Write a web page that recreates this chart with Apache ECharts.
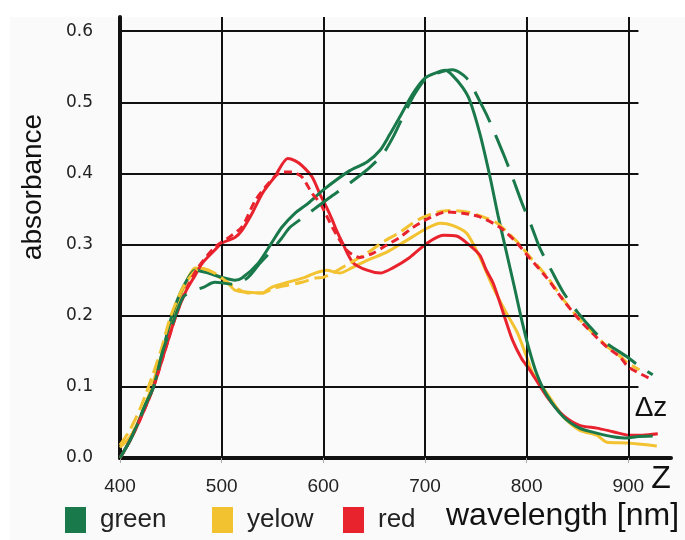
<!DOCTYPE html>
<html>
<head>
<meta charset="utf-8">
<script src="https://cdn.jsdelivr.net/npm/echarts@6/dist/echarts.min.js"></script>
<style>
    html, body { margin: 0; padding: 0; background: #fff; }
    #chart { width: 685px; height: 540px; }
</style>
</head>
<body>
<div id="chart"></div>
<script>
// tick values
const xTicks = [400, 500, 600, 700, 800, 900];
const yTicks = [0, 0.1, 0.2, 0.3, 0.4, 0.5, 0.6];

// solid curves [wavelength nm, absorbance]
const greenSolid = [[400, 0.0], [408, 0.02], [415, 0.04], [425, 0.075], [433, 0.1], [442, 0.15], [451, 0.2], [462, 0.24],
    [474, 0.264], [484, 0.261], [500, 0.254], [513, 0.25], [520, 0.253], [536, 0.274], [549, 0.302], [559, 0.324],
    [572, 0.344], [585, 0.358], [600, 0.377], [626, 0.404], [643, 0.416], [656, 0.433], [665, 0.454], [675, 0.479],
    [688, 0.512], [700, 0.534], [712, 0.542], [720, 0.545], [727, 0.538], [737, 0.521], [744, 0.503], [754, 0.456],
    [764, 0.395], [772, 0.34], [780, 0.29], [788, 0.24], [795, 0.195], [802, 0.155], [810, 0.118], [820, 0.088],
    [836, 0.058], [852, 0.042], [869, 0.035], [885, 0.030], [899, 0.028], [908, 0.030], [924, 0.031]];
const yellowSolid = [[400, 0.015], [410, 0.03], [420, 0.058], [430, 0.095], [442, 0.15], [452, 0.2], [463, 0.24], [474, 0.267],
    [487, 0.264], [497, 0.255], [506, 0.246], [513, 0.236], [526, 0.233], [540, 0.232], [549, 0.24], [565, 0.247],
    [582, 0.254], [592, 0.26], [603, 0.264], [616, 0.26], [629, 0.268], [643, 0.278], [662, 0.289], [682, 0.306],
    [702, 0.323], [715, 0.33], [727, 0.327], [741, 0.316], [754, 0.282], [767, 0.24], [780, 0.204], [791, 0.176],
    [800, 0.142], [806, 0.119], [820, 0.091], [836, 0.058], [852, 0.039], [869, 0.032], [879, 0.022], [899, 0.021],
    [928, 0.017]];
const redSolid = [[400, 0.0], [410, 0.025], [420, 0.055], [433, 0.1], [444, 0.15], [455, 0.2], [465, 0.235], [474, 0.257],
    [481, 0.274], [493, 0.292], [500, 0.302], [513, 0.31], [520, 0.32], [530, 0.344], [540, 0.372], [552, 0.395],
    [565, 0.421], [572, 0.418], [579, 0.411], [589, 0.395], [597, 0.37], [603, 0.353], [609, 0.334], [613, 0.32],
    [619, 0.302], [629, 0.275], [643, 0.264], [656, 0.26], [668, 0.267], [685, 0.282], [702, 0.302], [718, 0.313],
    [731, 0.312], [744, 0.299], [754, 0.285], [760, 0.265], [767, 0.246], [777, 0.204], [786, 0.166], [795, 0.14],
    [803, 0.124], [820, 0.086], [836, 0.06], [852, 0.046], [869, 0.042], [885, 0.037], [901, 0.032], [914, 0.032],
    [929, 0.034]];

// dashed curves
const greenDashed = [[400, 0.0], [410, 0.025], [425, 0.075], [433, 0.1], [442, 0.15], [452, 0.19], [462, 0.226], [472, 0.235],
    [482, 0.24], [493, 0.247], [513, 0.244], [526, 0.254], [536, 0.271], [548, 0.29], [559, 0.309], [567, 0.324],
    [580, 0.338], [592, 0.351], [606, 0.366], [620, 0.38], [634, 0.395], [646, 0.409], [659, 0.428], [670, 0.455],
    [680, 0.485], [690, 0.512], [700, 0.532], [712, 0.541], [727, 0.546], [741, 0.534], [757, 0.493], [764, 0.472],
    [777, 0.428], [786, 0.395], [795, 0.36], [805, 0.325], [813, 0.295], [825, 0.262], [836, 0.233], [850, 0.205],
    [867, 0.177], [880, 0.16], [899, 0.142], [910, 0.13], [924, 0.117]];
const yellowDashed = [[400, 0.018], [410, 0.04], [420, 0.07], [428, 0.1], [440, 0.15], [450, 0.2], [462, 0.24], [472, 0.26],
    [479, 0.267], [493, 0.26], [503, 0.25], [513, 0.24], [526, 0.232], [540, 0.232], [552, 0.239], [565, 0.243],
    [579, 0.247], [592, 0.253], [600, 0.254], [609, 0.26], [626, 0.274], [643, 0.288], [659, 0.304], [675, 0.317],
    [692, 0.334], [708, 0.344], [724, 0.348], [741, 0.346], [757, 0.339], [771, 0.33], [790, 0.305], [803, 0.283],
    [820, 0.255], [836, 0.223], [852, 0.195], [865, 0.176], [879, 0.157], [892, 0.143], [900, 0.133], [911, 0.124]];
const redDashed = [[400, 0.0], [410, 0.025], [420, 0.055], [433, 0.1], [444, 0.15], [455, 0.2], [466, 0.24], [477, 0.268],
    [493, 0.296], [506, 0.309], [520, 0.325], [533, 0.362], [546, 0.386], [559, 0.402], [569, 0.402], [579, 0.395],
    [589, 0.372], [597, 0.358], [609, 0.324], [623, 0.292], [636, 0.282], [649, 0.288], [662, 0.299], [675, 0.31],
    [688, 0.324], [705, 0.338], [721, 0.346], [737, 0.344], [754, 0.339], [774, 0.324], [790, 0.303], [803, 0.281],
    [820, 0.253], [836, 0.222], [852, 0.194], [865, 0.175], [879, 0.156], [892, 0.142], [900, 0.128], [921, 0.112]];

const GREEN = '#19794a';
const YELLOW = '#f2c230';
const RED = '#e8232d';
const gridEnd = 910; // horizontal grid lines stop here

var myChart = echarts.init(document.getElementById('chart'));

function curve(name, data, color, dash, z) {
    return {
        type: 'line',
        name: name,
        data: data,
        showSymbol: false,
        smooth: 0.25,
        itemStyle: { color: color },
        lineStyle: { color: color, width: 3, type: dash || 'solid' },
        z: z,
        silent: true,
    };
}

function legendAt(name, left) {
    return {
        data: [name],
        left: left,
        top: 507,
        padding: 0,
        icon: 'rect',
        itemWidth: 21,
        itemHeight: 26,
        selectedMode: false,
        textStyle: {
            fontFamily: 'Liberation Sans',
            fontSize: 26,
            color: '#222',
            padding: [0, 0, 0, 9],
        },
    };
}

myChart.setOption({
    animation: false,
    backgroundColor: '#fff',
    grid: { left: 120, right: 14, top: 17, bottom: 82 },
    xAxis: {
        type: 'value',
        min: 400,
        max: 942,
        interval: 100,
        axisLine: { show: true, lineStyle: { color: '#111', width: 4 } },
        axisTick: { show: true, customValues: xTicks, length: 5, lineStyle: { color: '#aaa', width: 1 } },
        axisLabel: {
            customValues: xTicks,
            margin: 19,
            fontFamily: 'Liberation Sans',
            fontSize: 19,
            color: '#222',
        },
        splitLine: { show: false },
    },
    yAxis: {
        type: 'value',
        min: 0,
        max: 0.62,
        interval: 0.1,
        axisLine: { show: true, lineStyle: { color: '#111', width: 4 } },
        axisTick: { show: false },
        axisLabel: {
            customValues: yTicks,
            margin: 27,
            fontFamily: 'DejaVu Sans',
            fontSize: 17,
            color: '#222',
            formatter: function (v) { return v.toFixed(1); },
        },
        splitLine: { show: false },
    },
    legend: [legendAt('green', 65), legendAt('yelow', 212), legendAt('red', 343)],
    graphic: [
        { type: 'rect', z: -10, shape: { x: 10, y: 17, width: 675, height: 523 }, style: { fill: '#fafafa' } },
        {
            type: 'text', x: 33, y: 187, rotation: Math.PI / 2,
            style: { text: 'absorbance', font: '28px "Liberation Sans"', fill: '#111', align: 'center', verticalAlign: 'middle' },
        },
        {
            type: 'text', x: 446, y: 516,
            style: { text: 'wavelength [nm]', font: '32px "Liberation Sans"', fill: '#111', align: 'left', verticalAlign: 'middle' },
        },
        {
            type: 'text', x: 661, y: 479,
            style: { text: 'Z', font: '32px "Liberation Sans"', fill: '#111', align: 'center', verticalAlign: 'middle' },
        },
        {
            type: 'text', x: 651, y: 408,
            style: { text: 'Δz', font: '28px "Liberation Sans"', fill: '#111', align: 'center', verticalAlign: 'middle' },
        },
    ],
    series: [
        {
            // grid lines
            type: 'line',
            name: 'grid',
            data: [[400, 0]],
            showSymbol: false,
            silent: true,
            z: 1,
            markLine: {
                silent: true,
                symbol: 'none',
                label: { show: false },
                lineStyle: { color: '#111', width: 2, type: 'solid' },
                data: xTicks.slice(1).map(v => ({ xAxis: v }))
                    .concat(yTicks.slice(1).map(v => [{ coord: [400, v] }, { coord: [gridEnd, v] }])),
            },
        },
        curve('yelow', yellowSolid, YELLOW, null, 3),
        curve('red', redSolid, RED, null, 4),
        curve('green', greenSolid, GREEN, null, 5),
        curve('yelow dashed', yellowDashed, YELLOW, [14, 6], 6),
        curve('red dashed', redDashed, RED, [8, 5], 7),
        curve('green dashed', greenDashed, GREEN, [34, 14], 8),
    ],
});
</script>
</body>
</html>
